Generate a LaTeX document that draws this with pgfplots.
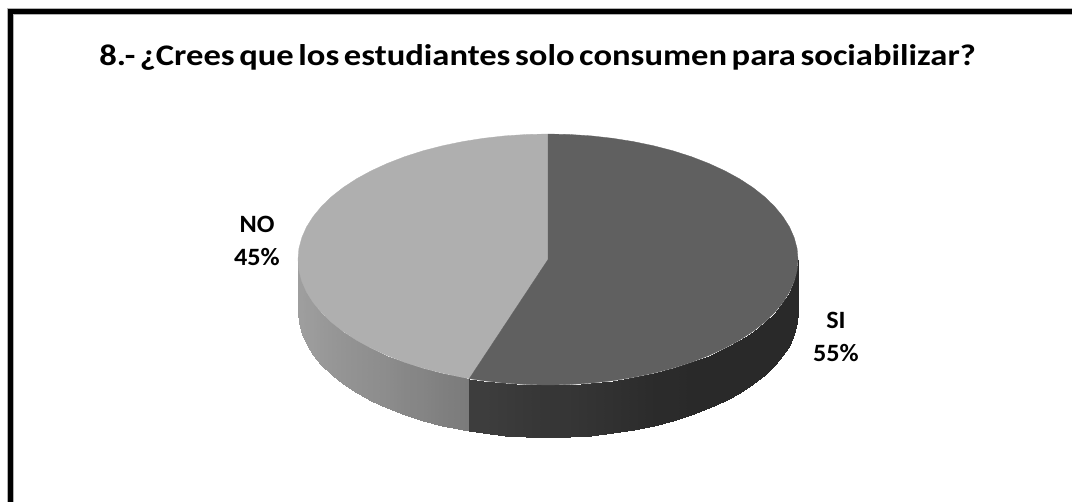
\documentclass[border=0pt]{standalone}
\usepackage{fontspec}
\usepackage{pgfplots}
\usepackage{pgfplotstable}
\pgfplotsset{compat=1.18}
\setmainfont{Carlito}

% rim of the pie, in picture pixels
\pgfplotstableread{
x y
548 259.5
548 134
569.8 134.5
591.4 135.9
612.7 138.3
633.5 141.6
653.7 145.8
673 150.8
691.4 156.7
708.7 163.4
724.8 170.8
739.5 178.8
752.8 187.5
764.5 196.7
774.6 206.5
782.9 216.6
789.5 227
794.2 237.7
797.1 248.6
798 259.5
797.1 270.4
794.2 281.3
789.5 292
782.9 302.4
774.6 312.5
764.5 322.3
752.8 331.5
739.5 340.2
724.8 348.2
708.7 355.6
691.4 362.3
673 368.2
653.7 373.2
633.5 377.4
612.7 380.7
591.4 383.1
569.8 384.5
548 385
526.2 384.5
504.6 383.1
483.3 380.7
469.3 378.6
548 259.5
}\topsi
\pgfplotstableread{
x y
548 259.5
469.3 378.6
462.5 377.4
442.3 373.2
423 368.2
404.6 362.3
387.3 355.6
371.2 348.2
356.5 340.2
343.2 331.5
331.5 322.3
321.4 312.5
313.1 302.4
306.5 292
301.8 281.3
298.9 270.4
298 259.5
298.9 248.6
301.8 237.7
306.5 227
313.1 216.6
321.4 206.5
331.5 196.7
343.2 187.5
356.5 178.8
371.2 170.8
387.3 163.4
404.6 156.7
423 150.8
442.3 145.8
462.5 141.6
483.3 138.3
504.6 135.9
526.2 134.5
548 134
548 259.5
}\topno
% side walls: upper and lower edge at each step, with grey level
\pgfplotstableread{
x y c
798 259.5 .16
798 312 .16
797.1 270.4 .16
797.1 322.9 .16
794.2 281.3 .16
794.2 333.8 .16
789.5 292 .16
789.5 344.5 .16
782.9 302.4 .16
782.9 354.9 .16
774.6 312.5 .16
774.6 365 .16
764.5 322.3 .16
764.5 374.8 .16
752.8 331.5 .16
752.8 384 .16
739.5 340.2 .16
739.5 392.7 .16
724.8 348.2 .16
724.8 400.7 .16
708.7 355.6 .16
708.7 408.1 .16
691.4 362.3 .16
691.4 414.8 .16
673 368.2 .17
673 420.7 .17
653.7 373.2 .17
653.7 425.7 .17
633.5 377.4 .18
633.5 429.9 .18
612.7 380.7 .19
612.7 433.2 .19
591.4 383.1 .20
591.4 435.6 .20
569.8 384.5 .21
569.8 437 .21
548 385 .21
548 437.5 .21
526.2 384.5 .22
526.2 437 .22
504.6 383.1 .23
504.6 435.6 .23
483.3 380.7 .24
483.3 433.2 .24
469.3 378.6 .24
469.3 431.1 .24
}\sidesi
\pgfplotstableread{
x y c
469.3 378.6 .48
469.3 431.1 .48
462.5 377.4 .486
462.5 429.9 .486
442.3 373.2 .50
442.3 425.7 .50
423 368.2 .52
423 420.7 .52
404.6 362.3 .53
404.6 414.8 .53
387.3 355.6 .55
387.3 408.1 .55
371.2 348.2 .56
371.2 400.7 .56
356.5 340.2 .57
356.5 392.7 .57
343.2 331.5 .58
343.2 384 .58
331.5 322.3 .59
331.5 374.8 .59
321.4 312.5 .60
321.4 365 .60
313.1 302.4 .61
313.1 354.9 .61
306.5 292 .61
306.5 344.5 .61
301.8 281.3 .62
301.8 333.8 .62
298.9 270.4 .62
298.9 322.9 .62
298 259.5 .62
298 312 .62
}\sideno

\definecolor{sicol}{HTML}{606060}
\definecolor{nocol}{HTML}{AFAFAF}

\begin{document}
\begin{tikzpicture}
\path[use as bounding box] (0,0) rectangle (1072bp,502bp);
\begin{axis}[
    scale only axis,
    width=1072bp, height=502bp,
    xmin=0, xmax=1072, ymin=0, ymax=502,
    y dir=reverse,
    hide axis,
    colormap={greys}{gray(0cm)=(0); gray(1cm)=(1)},
    point meta min=0, point meta max=1,
]
  % frame, only top and left are in the picture
  \addplot[draw=gray!60, line width=6.4bp, mark=none] coordinates {(1072,11.6) (10.3,11.6) (10.3,502)};
  \addplot[draw=black, line width=4.8bp, mark=none] coordinates {(1072,11.6) (10.3,11.6) (10.3,502)};

  \addplot[surf, draw=none, shader=interp, mesh/cols=2, point meta=\thisrow{c}] table[x=x, y=y] {\sideno};
  \addplot[surf, draw=none, shader=interp, mesh/cols=2, point meta=\thisrow{c}] table[x=x, y=y] {\sidesi};
  \addplot[fill=nocol, draw=nocol, line width=.3bp, mark=none] table[x=x, y=y] {\topno};
  \addplot[fill=sicol, draw=sicol, line width=.3bp, mark=none] table[x=x, y=y] {\topsi};

  \node[font=\fontsize{30}{36}\selectfont\bfseries] at (axis cs:537.5,57) {\scalebox{1.157}[1]{\spaceskip=4pt 8.- ¿Crees que los estudiantes solo consumen para sociabilizar?}};
  \node[font=\fontsize{25}{33.5}\selectfont\bfseries, align=center] at (axis cs:257,241) {\scalebox{1.05}[1]{NO}\\\scalebox{1.05}[1]{45\%}};
  \node[font=\fontsize{25}{33.5}\selectfont\bfseries, align=center] at (axis cs:836,337) {\scalebox{1.05}[1]{SI}\\\scalebox{1.05}[1]{55\%}};
\end{axis}
\end{tikzpicture}
\end{document}
